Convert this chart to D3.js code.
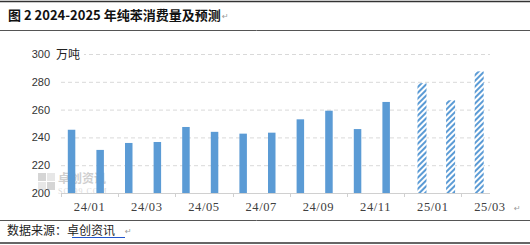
<!DOCTYPE html>
<html>
<head>
<meta charset="utf-8">
<script src="https://cdn.jsdelivr.net/npm/d3@7"></script>
<style>
  body { margin: 0; background: #fff; }
  svg { display: block; }
</style>
</head>
<body>
<svg id="chart" width="530" height="245"></svg>
<script>
// months on the category axis
const months = ["24/01","24/02","24/03","24/04","24/05","24/06","24/07","24/08","24/09","24/10","24/11","24/12","25/01","25/02","25/03"];
// actual consumption (万吨), null where only forecast
const actual = [245.5, 231, 236, 236.7, 247.5, 244, 242.7, 243.4, 253, 259.2, 246, 265.5, null, null, null];
// forecast (万吨)
const forecast = [null, null, null, null, null, null, null, null, null, null, null, null, 279, 266.7, 287.5];
const yTicks = [200, 220, 240, 260, 280, 300];
const xLabels = ["24/01","24/03","24/05","24/07","24/09","24/11","25/01","25/03"];

const svg = d3.select("#chart");
const padding = {left: 61, right: 40, top: 54, bottom: 52};
const W = 530, H = 245;
const blue = "#5B9BD5";

// hatch for forecast bars
const defs = svg.append("defs");
const pat = defs.append("pattern")
    .attr("id", "hatch")
    .attr("patternUnits", "userSpaceOnUse")
    .attr("width", 4).attr("height", 4)
    .attr("patternTransform", "rotate(45)");
pat.append("rect").attr("width", 4).attr("height", 4).attr("fill", "#fff");
pat.append("rect").attr("width", 2).attr("height", 4).attr("fill", blue);

// title block
svg.append("line").attr("x1", 0).attr("x2", W).attr("y1", 1.5).attr("y2", 1.5)
    .attr("stroke", "#333").attr("stroke-width", 1.5);
svg.append("line").attr("x1", 0).attr("x2", W).attr("y1", 30.5).attr("y2", 30.5)
    .attr("stroke", "#555").attr("stroke-width", 1);
svg.append("text").attr("x", 8).attr("y", 20)
    .attr("font-family", "'Noto Sans CJK SC', sans-serif")
    .attr("font-weight", "bold").attr("font-size", 13).attr("fill", "#111")
    .text("图 2 2024-2025 年纯苯消费量及预测");
svg.append("text").attr("x", 222).attr("y", 19)
    .attr("font-family", "'DejaVu Sans', sans-serif").attr("font-size", 8).attr("fill", "#999")
    .text("↵");

// scales
const x = d3.scaleBand().domain(months).range([padding.left, 490]).padding(0);
const bw = x.bandwidth();
const y = d3.scaleLinear().domain([200, 300]).range([193, 54]);

// gridlines
svg.append("g").selectAll("line")
    .data(yTicks.filter(d => d > 200))
    .enter().append("line")
    .attr("x1", padding.left).attr("x2", 490)
    .attr("y1", d => y(d) + 0.5).attr("y2", d => y(d) + 0.5)
    .attr("stroke", "#d9d9d9").attr("stroke-dasharray", "4,3");

// y labels
svg.append("g").selectAll("text")
    .data(yTicks)
    .enter().append("text")
    .attr("x", 50).attr("y", d => y(d) + 4)
    .attr("text-anchor", "end")
    .attr("font-family", "'Liberation Sans', Arial, sans-serif")
    .attr("font-size", 11).attr("fill", "#333")
    .text(d => d);

// unit label with white box covering the gridline
svg.append("rect").attr("x", 54).attr("y", 46).attr("width", 30).attr("height", 16).attr("fill", "#fff");
svg.append("text").attr("x", 56).attr("y", 58.5)
    .attr("font-family", "'Noto Sans CJK SC', sans-serif")
    .attr("font-size", 12).attr("fill", "#222")
    .text("万吨");

// watermark
const wm = svg.append("g").attr("opacity", 0.35);
wm.append("rect").attr("x", 38).attr("y", 173).attr("width", 8).attr("height", 8).attr("fill", "#888");
wm.append("rect").attr("x", 47).attr("y", 173).attr("width", 8).attr("height", 8).attr("fill", "#bbb");
wm.append("rect").attr("x", 38).attr("y", 182).attr("width", 8).attr("height", 8).attr("fill", "#bbb");
wm.append("rect").attr("x", 47).attr("y", 182).attr("width", 8).attr("height", 8).attr("fill", "#888");
wm.append("text").attr("x", 58).attr("y", 183)
    .attr("font-family", "'Noto Sans CJK SC', sans-serif").attr("font-weight", "bold")
    .attr("font-size", 12).attr("fill", "#777").text("卓创资讯");
wm.append("text").attr("x", 58).attr("y", 194)
    .attr("font-family", "'Liberation Serif', serif")
    .attr("font-size", 8).attr("fill", "#999").attr("letter-spacing", 1).text("SCI99.COM");

// actual bars: left half of each band
svg.append("g").selectAll("rect")
    .data(months.map((m, i) => ({m: m, v: actual[i]})).filter(d => d.v != null))
    .enter().append("rect")
    .attr("x", d => x(d.m) + bw / 2 - 7.5)
    .attr("width", 7.5)
    .attr("y", d => y(d.v))
    .attr("height", d => y(200) - y(d.v))
    .attr("fill", blue);

// forecast bars: right half, hatched
svg.append("g").selectAll("rect")
    .data(months.map((m, i) => ({m: m, v: forecast[i]})).filter(d => d.v != null))
    .enter().append("rect")
    .attr("x", d => x(d.m) + bw / 2 - 1)
    .attr("width", 9)
    .attr("y", d => y(d.v))
    .attr("height", d => y(200) - y(d.v))
    .attr("fill", "url(#hatch)");

// x axis line and ticks every two months
svg.append("line").attr("x1", padding.left).attr("x2", 490)
    .attr("y1", 193.5).attr("y2", 193.5).attr("stroke", "#d0d0d0");
svg.append("g").selectAll("line")
    .data(months.filter((m, i) => i % 2 === 0))
    .enter().append("line")
    .attr("x1", d => Math.round(x(d)) + 0.5).attr("x2", d => Math.round(x(d)) + 0.5)
    .attr("y1", 193).attr("y2", 197).attr("stroke", "#d0d0d0");

// x labels centred on each pair of months
svg.append("g").selectAll("text")
    .data(xLabels)
    .enter().append("text")
    .attr("x", d => x(d) + bw)
    .attr("y", 211)
    .attr("text-anchor", "middle")
    .attr("font-family", "'Liberation Serif', 'Times New Roman', serif")
    .attr("font-size", 12.5).attr("fill", "#404040")
    .attr("letter-spacing", 0.6)
    .text(d => d);
svg.append("text").attr("x", 514).attr("y", 211)
    .attr("font-family", "'DejaVu Sans', sans-serif").attr("font-size", 8).attr("fill", "#999")
    .text("↵");

// source block
svg.append("line").attr("x1", 0).attr("x2", W).attr("y1", 220.5).attr("y2", 220.5)
    .attr("stroke", "#555").attr("stroke-width", 1);
svg.append("line").attr("x1", 0).attr("x2", W).attr("y1", 243).attr("y2", 243)
    .attr("stroke", "#333").attr("stroke-width", 1.5);
svg.append("text").attr("x", 7).attr("y", 235)
    .attr("font-family", "'Noto Sans CJK SC', sans-serif")
    .attr("font-size", 12).attr("fill", "#222")
    .text("数据来源：卓创资讯");
svg.append("line").attr("x1", 72).attr("x2", 125).attr("y1", 237.5).attr("y2", 237.5)
    .attr("stroke", "#2255cc").attr("stroke-width", 1);
svg.append("text").attr("x", 125).attr("y", 234)
    .attr("font-family", "'DejaVu Sans', sans-serif").attr("font-size", 8).attr("fill", "#999")
    .text("↵");
</script>
</body>
</html>
